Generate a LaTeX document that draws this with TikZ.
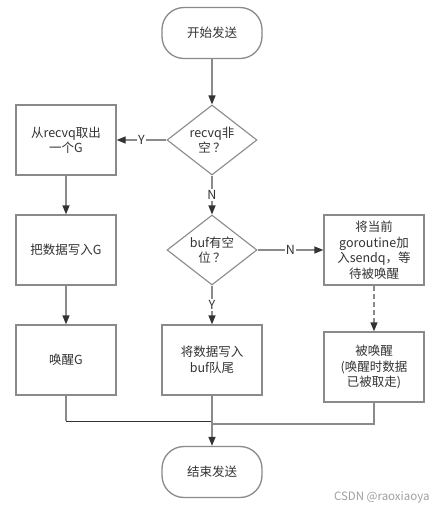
\documentclass[tikz,border=0pt]{standalone}
\usepackage{fontspec}
\setmainfont{Noto Sans CJK SC}
\usetikzlibrary{shapes.geometric,arrows.meta}
\definecolor{linec}{HTML}{8A8A8A}
\definecolor{tipc}{HTML}{333333}
\definecolor{textc}{HTML}{333333}
\definecolor{wmc}{HTML}{A0A0A0}
\begin{document}
\begin{tikzpicture}[x=1pt,y=-1pt,
  every node/.style={text=textc,font=\fontsize{12.5}{15.5}\selectfont},
  procbox/.style={draw=linec,line width=1.3pt,fill=white,minimum width=100pt,minimum height=70pt,inner sep=0pt,align=center},
  termbox/.style={draw=linec,line width=1.3pt,fill=white,minimum width=100pt,minimum height=51pt,rounded corners=22pt,inner sep=0pt,align=center},
  decbox/.style={draw=linec,line width=1.1pt,fill=white,diamond,aspect=1.2857,minimum width=90pt,minimum height=70pt,inner sep=0pt,align=center},
  conn/.style={draw=linec,line width=1.3pt},
  arr/.style={conn,-{Triangle[length=9pt,width=7pt,color=tipc]}},
  lbl/.style={fill=white,inner sep=1pt,font=\fontsize{12.5}{14}\selectfont}
]
\useasboundingbox[fill=white] (0,0) rectangle (447,515);
\node[termbox] (start) at (212,33) {开始发送};
\node[decbox] (d1) at (212,140) {recvq非\\空\,？};
\node[procbox] (b1) at (66,140) {从recvq取出\\一个G};
\node[decbox] (d2) at (212,250) {buf有空\\位\,？};
\node[procbox] (b2) at (66,250) {把数据写入G};
\node[procbox] (b3) at (374,250) {将当前\\goroutine加\\入sendq，等\\待被唤醒};
\node[procbox] (b4) at (66,360) {唤醒G};
\node[procbox] (b5) at (212,360) {将数据写入\\buf队尾};
\node[procbox] (b6) at (374,367) {被唤醒\\(唤醒时数据\\已被取走)};
\node[termbox] (end) at (212,472) {结束发送};
\node[text=wmc,font=\fontsize{11.5}{13}\selectfont,anchor=east] (wm) at (433,497) {CSDN @raoxiaoya};

\draw[arr] (start) -- (d1);
\draw[arr] (d1.west) -- node[lbl] (ly1) {Y} (b1.east);
\draw[arr] (d1.south) -- node[lbl] (ln1) {N} (d2.north);
\draw[arr] (b1) -- (b2);
\draw[arr] (b2) -- (b4);
\draw[arr] (d2.east) -- node[lbl] (ln2) {N} (b3.west);
\draw[arr] (d2.south) -- node[lbl] (ly2) {Y} (b5.north);
\draw[arr,dash pattern=on 5pt off 3pt] (b3) -- (b6);
\coordinate (m1) at (212,421);
\coordinate (m2) at (212,424);
\coordinate (m0) at (66,421);
\draw[conn] (b4.south) -- (m0);
\draw[draw=tipc,line width=1pt] (m0) -- (m1);
\draw[conn] (b6.south) |- (m2);
\draw[arr] (b5) -- (end);
\end{tikzpicture}
\end{document}
